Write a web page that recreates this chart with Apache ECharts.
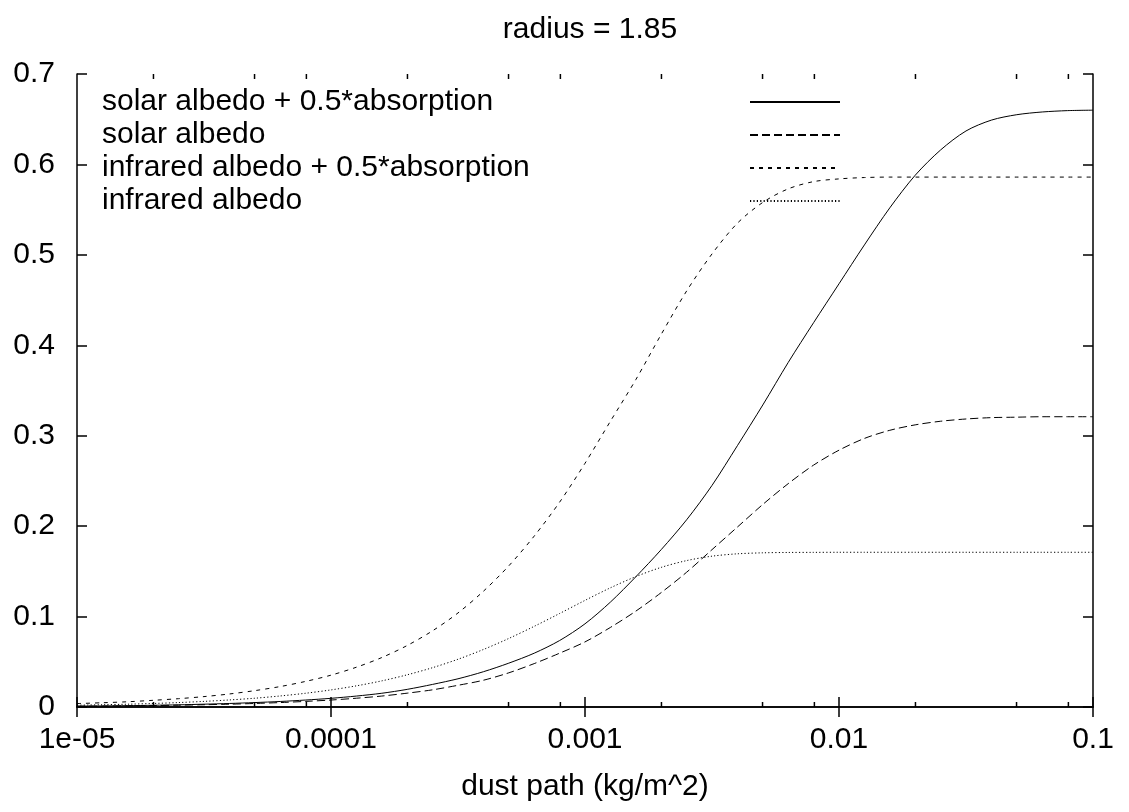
<!DOCTYPE html>
<html>
<head>
<meta charset="utf-8">
<script src="https://cdn.jsdelivr.net/npm/echarts@6/dist/echarts.min.js"></script>
<style>
html,body{margin:0;padding:0;background:#fff;}
#chart{width:1129px;height:812px;}
</style>
</head>
<body>
<div id="chart"></div>
<script>
// ---- data ----
const titleText = 'radius = 1.85';
const xAxisTitle = 'dust path (kg/m^2)';
const xValues = [
  1e-5, 1.259e-5, 1.585e-5, 1.995e-5, 2.512e-5, 3.162e-5, 3.981e-5, 5.012e-5, 6.31e-5, 7.943e-5,
  1e-4, 1.259e-4, 1.585e-4, 1.995e-4, 2.512e-4, 3.162e-4, 3.981e-4, 5.012e-4, 6.31e-4, 7.943e-4,
  1e-3, 1.259e-3, 1.585e-3, 1.995e-3, 2.512e-3, 3.162e-3, 3.981e-3, 5.012e-3, 6.31e-3, 7.943e-3,
  1e-2, 1.259e-2, 1.585e-2, 1.995e-2, 2.512e-2, 3.162e-2, 3.981e-2, 5.012e-2, 6.31e-2, 7.943e-2,
  1e-1];
const seriesNames = ['solar albedo + 0.5*absorption', 'solar albedo', 'infrared albedo + 0.5*absorption', 'infrared albedo'];
const solarAlbedoAbs = [
  0.0010, 0.0012, 0.0015, 0.0019, 0.0024, 0.0031, 0.0039, 0.0049, 0.0061, 0.0077,
  0.0096, 0.0121, 0.0152, 0.0195, 0.0250, 0.0312, 0.0390, 0.0485, 0.0595, 0.0735,
  0.0920, 0.1160, 0.1440, 0.1740, 0.2070, 0.2450, 0.2890, 0.3340, 0.3810, 0.4250,
  0.4680, 0.5110, 0.5520, 0.5880, 0.6160, 0.6370, 0.6490, 0.6550, 0.6580, 0.6595,
  0.6600];
const solarAlbedo = [
  0.0008, 0.0010, 0.0012, 0.0016, 0.0020, 0.0025, 0.0031, 0.0039, 0.0049, 0.0062,
  0.0077, 0.0097, 0.0121, 0.0153, 0.0190, 0.0240, 0.0296, 0.0378, 0.0480, 0.0595,
  0.0720, 0.0880, 0.1060, 0.1265, 0.1490, 0.1740, 0.1990, 0.2240, 0.2470, 0.2675,
  0.2840, 0.2970, 0.3060, 0.3120, 0.3160, 0.3185, 0.3200, 0.3205, 0.3210, 0.3210,
  0.3210];
const irAlbedoAbs = [
  0.0038, 0.0047, 0.0058, 0.0074, 0.0092, 0.0115, 0.0144, 0.0181, 0.0226, 0.0283,
  0.0352, 0.0440, 0.0547, 0.0680, 0.0843, 0.1040, 0.1280, 0.1561, 0.1890, 0.2265,
  0.2695, 0.3160, 0.3620, 0.4120, 0.4600, 0.5010, 0.5350, 0.5580, 0.5730, 0.5810,
  0.5840, 0.5855, 0.5860, 0.5860, 0.5860, 0.5860, 0.5860, 0.5860, 0.5860, 0.5860,
  0.5860];
const irAlbedo = [
  0.0020, 0.0025, 0.0031, 0.0039, 0.0049, 0.0062, 0.0078, 0.0097, 0.0122, 0.0152,
  0.0189, 0.0234, 0.0289, 0.0356, 0.0435, 0.0528, 0.0636, 0.0758, 0.0892, 0.1034,
  0.1179, 0.1318, 0.1442, 0.1544, 0.1619, 0.1668, 0.1694, 0.1705, 0.1709, 0.1710,
  0.1711, 0.1711, 0.1711, 0.1711, 0.1711, 0.1711, 0.1711, 0.1711, 0.1711, 0.1711,
  0.1711];
const xTickValues = [1e-5, 1e-4, 1e-3, 1e-2, 1e-1];
const xTickLabels = ['1e-05', '0.0001', '0.001', '0.01', '0.1'];
const xMinorTickValues = [2e-5, 5e-5, 8e-5, 2e-4, 5e-4, 8e-4, 2e-3, 5e-3, 8e-3, 2e-2, 5e-2, 8e-2];
const yTickLabels = ['0', '0.1', '0.2', '0.3', '0.4', '0.5', '0.6', '0.7'];

// ---- chart ----
const FONT = "'Liberation Sans', Arial, Helvetica, sans-serif";
const FS = 30;
const chart = echarts.init(document.getElementById('chart'), null, {renderer: 'canvas'});
const seriesData = [solarAlbedoAbs, solarAlbedo, irAlbedoAbs, irAlbedo];
const dashes = ['solid', [8, 4], [4, 5], [1.2, 2.2]];

const axisLineStyle = {color: '#000', width: 1.5};

function xLabel(v) {
  let best = 0, bd = Infinity;
  xTickValues.forEach((t, i) => {
    const d = Math.abs(Math.log10(v) - Math.log10(t));
    if (d < bd) { bd = d; best = i; }
  });
  return xTickLabels[best];
}

const lineSeries = seriesNames.map((name, i) => ({
  name: name,
  type: 'line',
  xAxisIndex: 0,
  yAxisIndex: 0,
  data: xValues.map((x, j) => [x, seriesData[i][j]]),
  smooth: 0.3,
  showSymbol: false,
  symbol: 'none',
  lineStyle: {color: '#000', width: 1, type: dashes[i]},
  itemStyle: {color: '#000'},
  silent: true
}));

const minorTickSeries = {
  type: 'custom',
  xAxisIndex: 0,
  yAxisIndex: 0,
  silent: true,
  data: xMinorTickValues.map(v => [v, 0]),
  renderItem: function (params, api) {
    const v = api.value(0);
    const b = api.coord([v, 0]);
    const t = api.coord([v, 0.7]);
    return {
      type: 'group',
      children: [
        {type: 'line', shape: {x1: b[0], y1: b[1], x2: b[0], y2: b[1] - 5}, style: {stroke: '#000', lineWidth: 1.5}},
        {type: 'line', shape: {x1: t[0], y1: t[1], x2: t[0], y2: t[1] + 5}, style: {stroke: '#000', lineWidth: 1.5}}
      ]
    };
  }
};

const option = {
  animation: false,
  backgroundColor: '#fff',
  textStyle: {fontFamily: FONT},
  title: {
    text: titleText,
    left: 585,
    textAlign: 'center',
    top: 10,
    textStyle: {fontFamily: FONT, fontSize: FS, fontWeight: 'normal', color: '#000'}
  },
  legend: {
    data: seriesNames,
    orient: 'vertical',
    left: 97,
    top: 82,
    align: 'right',
    itemWidth: 90,
    itemHeight: 14,
    itemGap: 3,
    selectedMode: false,
    itemStyle: {opacity: 0},
    formatter: function (name) { return '{n|' + name + '}'; },
    textStyle: {
      fontFamily: FONT, fontSize: FS, color: '#000',
      rich: {n: {width: 643, align: 'left', fontFamily: FONT, fontSize: FS, lineHeight: 30, color: '#000'}}
    }
  },
  grid: {left: 77, right: 36, top: 74, bottom: 105, containLabel: false},
  xAxis: [
    {
      type: 'log', logBase: 10, min: 1e-5, max: 0.1, position: 'bottom',
      name: xAxisTitle, nameLocation: 'middle', nameGap: 65,
      nameTextStyle: {fontFamily: FONT, fontSize: FS, color: '#000'},
      axisLine: {show: true, lineStyle: axisLineStyle},
      axisTick: {show: true, inside: true, length: 10, lineStyle: axisLineStyle},
      axisLabel: {show: true, margin: 18, fontFamily: FONT, fontSize: FS, color: '#000', formatter: xLabel, showMinLabel: true, showMaxLabel: true},
      splitLine: {show: false}
    },
    {
      type: 'log', logBase: 10, min: 1e-5, max: 0.1, position: 'top',
      axisLine: {show: true, lineStyle: axisLineStyle},
      axisTick: {show: true, inside: true, length: 10, lineStyle: axisLineStyle},
      axisLabel: {show: false},
      splitLine: {show: false}
    }
  ],
  yAxis: [
    {
      type: 'value', min: 0, max: 0.7, interval: 0.1, position: 'left',
      axisLine: {show: true, lineStyle: axisLineStyle},
      axisTick: {show: true, inside: true, length: 10, lineStyle: axisLineStyle},
      axisLabel: {show: true, margin: 22, fontFamily: FONT, fontSize: FS, color: '#000',
        formatter: function (v) { return yTickLabels[Math.round(v * 10)]; }},
      splitLine: {show: false}
    },
    {
      type: 'value', min: 0, max: 0.7, interval: 0.1, position: 'right',
      axisLine: {show: true, lineStyle: axisLineStyle},
      axisTick: {show: true, inside: true, length: 10, lineStyle: axisLineStyle},
      axisLabel: {show: false},
      splitLine: {show: false}
    }
  ],
  series: lineSeries.concat([minorTickSeries])
};
chart.setOption(option);
</script>
</body>
</html>
